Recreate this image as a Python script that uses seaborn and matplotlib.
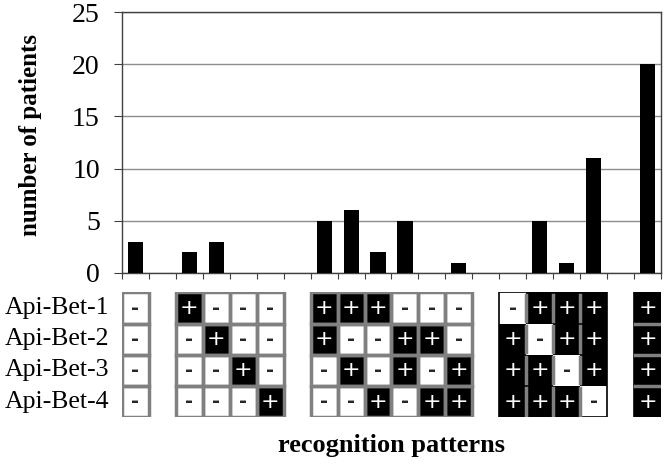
import numpy as np
import pandas as pd
import matplotlib
matplotlib.use("Agg")
import matplotlib.pyplot as plt
import matplotlib.patches as mpatches
from matplotlib.colors import ListedColormap
import seaborn as sns

plt.rcParams["font.family"] = ["Liberation Serif", "DejaVu Serif"]

# --- data -------------------------------------------------------------------
# one entry per slot on the x axis; None = empty spacer between groups
# each pattern string is read top->bottom: Api-Bet-1 .. Api-Bet-4
patterns = ["----", None,
            "+---", "-+--", "--+-", "---+", None,
            "++--", "+-+-", "+--+", "-++-", "-+-+", "--++", None,
            "-+++", "+-++", "++-+", "+++-", None,
            "++++"]
patients = [3, 0, 2, 3, 0, 0, 0, 5, 6, 2, 5, 0, 1, 0, 0, 5, 1, 11, 0, 20]
antigens = ["Api-Bet-1", "Api-Bet-2", "Api-Bet-3", "Api-Bet-4"]

n_slots = len(patterns)

# --- figure -----------------------------------------------------------------
fig = plt.figure(figsize=(6.64, 4.65), dpi=100)
ax_bar = fig.add_axes([0.1837, 0.413, 0.8118, 0.561])
ax_tab = fig.add_axes([0.1837, 0.103, 0.8118, 0.268])

# bars
df = pd.DataFrame({"slot": list(range(n_slots)), "patients": patients})
sns.barplot(data=df, x="slot", y="patients", color="black",
            width=0.56, saturation=1, ax=ax_bar, zorder=3)
ax_bar.set_xlim(-0.5, n_slots - 0.5)
ax_bar.set_ylim(0, 25)
ax_bar.set_yticks(range(0, 26, 5))
ax_bar.set_xticks(np.arange(-0.5, n_slots, 1.0))
ax_bar.set_xticklabels([])
ax_bar.tick_params(axis="x", length=4, width=0.8, color="#404040", direction="out")
ax_bar.tick_params(axis="y", length=6, width=0.8, color="#404040", labelsize=20,
                   pad=10)
ax_bar.grid(axis="y", color="#8c8c8c", linewidth=1, zorder=0)
ax_bar.set_axisbelow(True)
for sp in ax_bar.spines.values():
    sp.set_color("#404040")
    sp.set_linewidth(1)
ax_bar.set_xlabel("")
ax_bar.set_ylabel("number of patients", fontsize=18, fontweight="bold")
ax_bar.yaxis.set_label_coords(-0.148, 0.53)

# pattern table
mat = np.full((len(antigens), n_slots), np.nan)
ann = np.full((len(antigens), n_slots), "", dtype=object)
for j, p in enumerate(patterns):
    if p is None:
        continue
    for i, ch in enumerate(p):
        mat[i, j] = 1.0 if ch == "+" else 0.0
        ann[i, j] = ch

sns.heatmap(mat, ax=ax_tab, cmap=ListedColormap(["white", "black"]),
            vmin=0, vmax=1, cbar=False, annot=ann, fmt="",
            linewidths=0, mask=np.isnan(mat),
            annot_kws={"fontsize": 16, "family": "DejaVu Sans"})
for t in ax_tab.texts:
    if t.get_text() == "-":
        t.set_fontweight("bold")
        t.set_fontsize(14)
ax_tab.set_xlim(0, n_slots)
ax_tab.set_ylim(len(antigens), 0)

# group runs of consecutive patterns
groups = []
start = None
for j, p in enumerate(patterns + [None]):
    if p is not None and start is None:
        start = j
    elif p is None and start is not None:
        groups.append((start, j))
        start = None

for g0, g1 in groups:
    dark = all(patterns[j].count("+") >= 3 for j in range(g0, g1))
    if not dark:
        for j in range(g0, g1):
            for i in range(len(antigens)):
                ax_tab.add_patch(mpatches.Rectangle((j, i), 1, 1, fill=False,
                                 edgecolor="#808080", linewidth=2.5, zorder=4))
    else:
        ax_tab.add_patch(mpatches.Rectangle((g0, 0), g1 - g0, len(antigens),
                         fill=False, edgecolor="black", linewidth=1.2, zorder=4))
        if g1 - g0 > 1:
            for j in range(g0, g1 - 1):
                for i in range(len(antigens)):
                    if patterns[j][i] == "+" or patterns[j + 1][i] == "+":
                        ax_tab.plot([j + 1, j + 1], [i + 0.08, i + 0.92],
                                    color="#808080", linewidth=2.5, zorder=4)
        else:
            for i in range(len(antigens) - 1):
                ax_tab.plot([g0 + 0.05, g1 - 0.05], [i + 1, i + 1],
                            color="#808080", linewidth=2.5, zorder=4)

ax_tab.set_xticks([])
ax_tab.set_yticks(np.arange(len(antigens)) + 0.5)
ax_tab.set_yticklabels(antigens, rotation=0, fontsize=18.5)
ax_tab.tick_params(axis="y", length=0, pad=9)
for sp in ax_tab.spines.values():
    sp.set_visible(False)
ax_tab.set_xlabel("recognition patterns", fontsize=19, fontweight="bold",
                  labelpad=12)
ax_tab.set_ylabel("")

fig.savefig("out.png", dpi=100)
